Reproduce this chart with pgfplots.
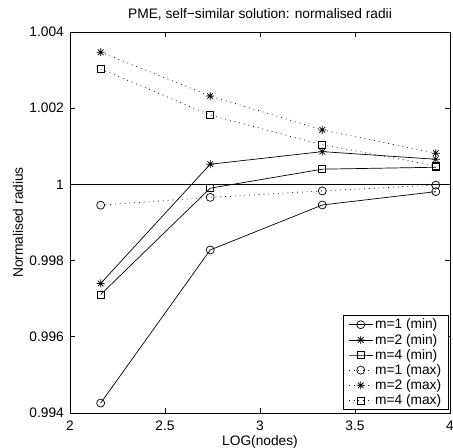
\documentclass[border=0pt]{standalone}
\usepackage{fontspec}
\setmainfont{Liberation Sans}
\usepackage{pgfplots}
\pgfplotsset{compat=1.18}
\pgfdeclareplotmark{mstar}{%
  \pgfpathmoveto{\pgfqpoint{0pt}{\pgfplotmarksize}}%
  \pgfpathlineto{\pgfqpoint{0pt}{-\pgfplotmarksize}}%
  \pgfpathmoveto{\pgfqpoint{\pgfplotmarksize}{0pt}}%
  \pgfpathlineto{\pgfqpoint{-\pgfplotmarksize}{0pt}}%
  \pgfpathmoveto{\pgfqpointpolar{45}{\pgfplotmarksize}}%
  \pgfpathlineto{\pgfqpointpolar{225}{\pgfplotmarksize}}%
  \pgfpathmoveto{\pgfqpointpolar{135}{\pgfplotmarksize}}%
  \pgfpathlineto{\pgfqpointpolar{315}{\pgfplotmarksize}}%
  \pgfusepathqstroke}
\begin{document}
\begin{tikzpicture}
\useasboundingbox (-70bp,-35bp) rectangle (383bp,413bp);
\begin{axis}[
  at={(0,0)}, anchor=south west,
  scale only axis, width=380bp, height=381bp,
  xmin=2, xmax=4, ymin=0.994, ymax=1.004,
  xtick={2,2.5,3,3.5,4}, xticklabels={2,2.5,3,3.5,4},
  ytick={0.994,0.996,0.998,1,1.002,1.004},
  yticklabels={0.994,0.996,0.998,1,1.002,1.004},
  scaled ticks=false,
  tick align=inside, major tick length=5bp,
  axis line style={line width=0.7bp},
  every tick/.style={line width=0.7bp, black},
  font=\fontsize{13.8}{16}\selectfont,
  xticklabel style={anchor=base, inner sep=0pt, yshift=-17bp},
  yticklabel style={anchor=east, inner sep=0pt, xshift=-6bp},
  title={PME, self−similar solution: normalised radii},
  title style={at={(axis description cs:0.5,1.021)}, anchor=base, inner sep=0pt},
  xlabel={LOG(nodes)},
  xlabel style={at={(axis description cs:0.5,-0.084)}, anchor=base, inner sep=0pt},
  ylabel={Normalised radius},
  ylabel style={at={(axis description cs:-0.1237,0.5)}, anchor=base, inner sep=0pt, rotate=0},
  legend style={at={(axis description cs:1,0)}, anchor=south east, xshift=-1bp, yshift=3bp,
    draw=black, fill=white, line width=0.7bp, font=\fontsize{13.8}{16}\selectfont,
    row sep=-0.3bp, inner xsep=5.5bp, inner ysep=1.5bp},
  legend cell align=left,
  legend image code/.code={%
    \draw[mark repeat=2,mark phase=2,#1] plot coordinates {(0bp,0bp) (12bp,0bp) (24bp,0bp)};},
  every axis plot/.append style={black, line width=0.7bp, mark options={solid, line width=0.7bp}},
]
\addplot[black, forget plot] coordinates {(2,1) (4,1)};
\addplot[mark=o, mark size=4bp] coordinates {
(2.1614,0.99426) (2.738,0.99828) (3.328,0.99946) (3.925,0.99981)};
\addplot[mark=mstar, mark size=4bp] coordinates {
(2.1614,0.99740) (2.738,1.00053) (3.328,1.00086) (3.925,1.00066)};
\addplot[mark=square, mark size=3.5bp] coordinates {
(2.1614,0.99711) (2.738,0.99990) (3.328,1.00040) (3.925,1.00045)};
\addplot[mark=o, mark size=4bp, dash pattern=on 0.8bp off 4bp] coordinates {
(2.1614,0.999455) (2.738,0.99966) (3.328,0.99983) (3.925,0.99998)};
\addplot[mark=mstar, mark size=4bp, dash pattern=on 0.8bp off 4bp] coordinates {
(2.1614,1.00347) (2.738,1.00232) (3.328,1.00143) (3.925,1.00082)};
\addplot[mark=square, mark size=3.5bp, dash pattern=on 0.8bp off 4bp] coordinates {
(2.1614,1.00303) (2.738,1.00182) (3.328,1.00104) (3.925,1.00049)};
\legend{m=1 (min),m=2 (min),m=4 (min),m=1 (max),m=2 (max),m=4 (max)}
\end{axis}
\end{tikzpicture}
\end{document}
